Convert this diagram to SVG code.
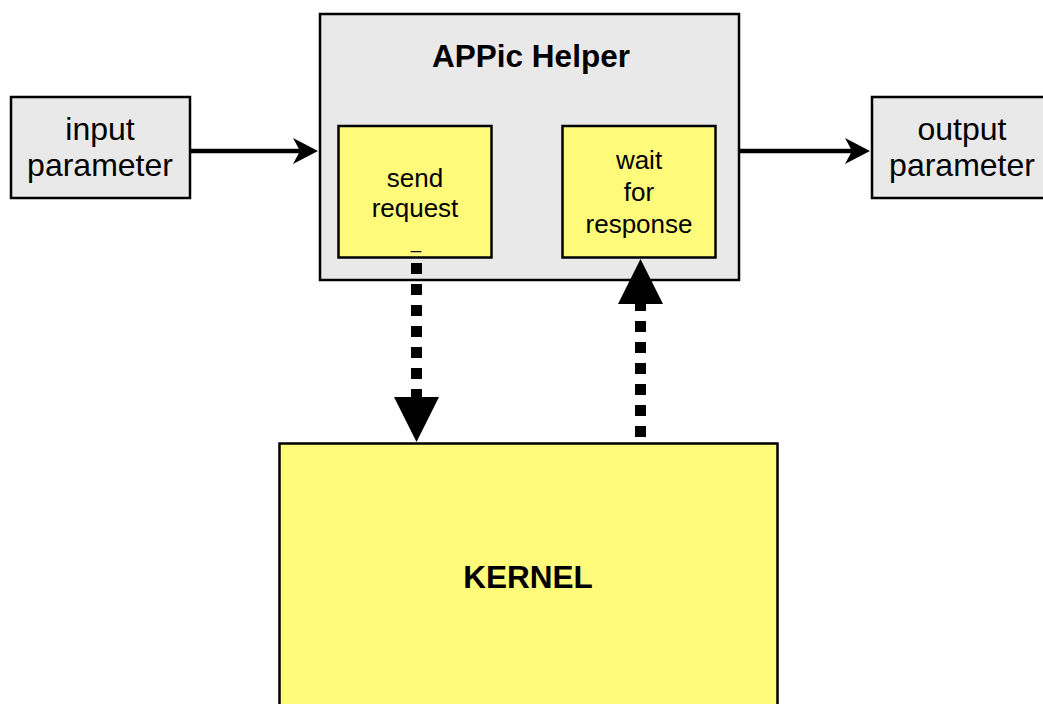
<svg xmlns="http://www.w3.org/2000/svg" width="1043" height="704" viewBox="0 0 1043 704">
<defs>
<style>
.gray{fill:#e9e9e9;stroke:#000;stroke-width:2.5}
.yel{fill:#fffa7a;stroke:#000;stroke-width:2.5}
.t{font-family:"Liberation Sans",Arial,sans-serif;fill:#000;text-anchor:middle}
.big{font-size:32px}
.mid{font-size:26px}
.bold{font-size:31.5px;font-weight:bold}
.solid{stroke:#000;stroke-width:4.5;fill:none}
.dot{stroke:#000;stroke-width:11;stroke-dasharray:11 10;fill:none}
</style>
<marker id="ah" markerUnits="userSpaceOnUse" markerWidth="26" markerHeight="28" refX="13" refY="14" orient="auto" viewBox="0 0 26 28">
<path d="M0,1 L25,14 L0,27 L7,14 Z" fill="#000"/>
</marker>
<marker id="big" markerUnits="userSpaceOnUse" markerWidth="46" markerHeight="46" refX="0" refY="22.5" orient="auto" viewBox="0 0 46 46">
<path d="M0,0 L45,22.5 L0,45 Z" fill="#000"/>
</marker>
</defs>
<rect width="1043" height="704" fill="#fff"/>
<g id="helper">
<rect class="gray" x="320" y="14" width="419" height="266"/>
<text class="t bold" x="531" y="67">APPic Helper</text>
</g>
<g id="send">
<rect class="yel" x="338.5" y="126" width="153" height="131.5"/>
<text class="t mid" x="415" y="187">send</text>
<text class="t mid" x="415" y="217">request</text>
<text class="t" style="font-size:18px" x="416" y="248">_</text>
</g>
<g id="wait">
<rect class="yel" x="562.5" y="126" width="153" height="131.5"/>
<text class="t mid" x="639" y="169">wait</text>
<text class="t mid" x="639" y="201">for</text>
<text class="t mid" x="639" y="233">response</text>
</g>
<g id="input">
<rect class="gray" x="11" y="97" width="179" height="101"/>
<text class="t big" x="100" y="140">input</text>
<text class="t big" x="100" y="176">parameter</text>
</g>
<g id="output">
<rect class="gray" x="872" y="97" width="182" height="101"/>
<text class="t big" x="962" y="140">output</text>
<text class="t big" x="962" y="176">parameter</text>
</g>
<g id="kernel">
<rect class="yel" x="279.5" y="443.5" width="498" height="280"/>
<text class="t bold" x="528" y="588">KERNEL</text>
</g>
<g id="connectors">
<line class="solid" x1="190" y1="151" x2="306" y2="151" marker-end="url(#ah)"/>
<line class="solid" x1="740" y1="151" x2="858" y2="151" marker-end="url(#ah)"/>
<line class="dot" x1="416.5" y1="263" x2="416.5" y2="397" marker-end="url(#big)"/>
<line class="dot" x1="640.5" y1="437" x2="640.5" y2="304" marker-end="url(#big)"/>
</g>
</svg>
